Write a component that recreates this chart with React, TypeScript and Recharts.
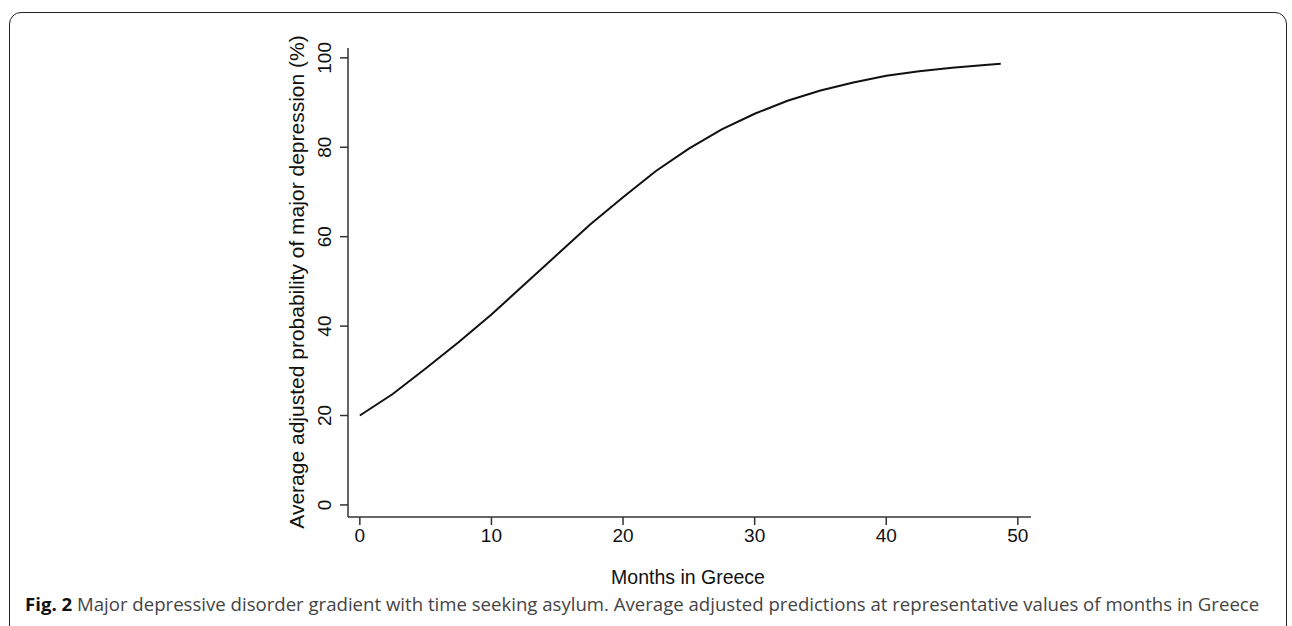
import { LineChart, Line, XAxis, YAxis } from 'recharts';

// months in Greece (representative values)
const months = [0, 2.5, 5, 7.5, 10, 12.5, 15, 17.5, 20, 22.5, 25, 27.5, 30, 32.5, 35, 37.5, 40, 42.5, 45, 47.5, 48.7];
// average adjusted probability of major depression (%)
const probability = [20.0, 24.8, 30.5, 36.4, 42.6, 49.3, 56.0, 62.7, 68.8, 74.7, 79.7, 84.0, 87.5, 90.4, 92.7, 94.5, 96.0, 97.0, 97.8, 98.4, 98.7];
const xTicks = [0, 10, 20, 30, 40, 50];
const yTicks = [0, 20, 40, 60, 80, 100];

const rows = months.map((m, i) => ({ m, p: probability[i] }));

const axisColor = '#333';
const font = '"Liberation Sans", Arial, sans-serif';

function YTick(props: any) {
  const { x, y, payload } = props;
  const bx = x - 7;
  return (
    <text x={bx} y={y} transform={`rotate(-90 ${bx} ${y})`} textAnchor="middle" fontSize={19} fontFamily={font} fill="#111">
      {payload.value}
    </text>
  );
}

function XTick(props: any) {
  const { x, y, payload } = props;
  return (
    <text x={x} y={y + 15} textAnchor="middle" fontSize={19} fontFamily={font} fill="#111">
      {payload.value}
    </text>
  );
}

export default function App() {
  return (
    <div style={{ position: 'absolute', left: 0, top: 0, width: 1292, height: 626, overflow: 'hidden', background: '#fff' }}>
      <div
        style={{
          position: 'absolute', left: 9, top: 12, width: 1278, height: 700,
          border: '1.5px solid #222', borderRadius: 12, boxSizing: 'border-box',
        }}
      />
      <div style={{ position: 'absolute', left: 0, top: 0 }}>
        <LineChart width={1292} height={626} data={rows} margin={{ top: 48, right: 261, bottom: 49, left: 288 }}>
          <XAxis
            dataKey="m"
            type="number"
            domain={[-0.9, 51]}
            ticks={xTicks}
            height={60}
            tickSize={8}
            stroke={axisColor}
            strokeWidth={1.5}
            tick={<XTick />}
            allowDataOverflow
          />
          <YAxis
            type="number"
            domain={[-2.7, 102.2]}
            ticks={yTicks}
            width={60}
            tickSize={8}
            stroke={axisColor}
            strokeWidth={1.5}
            tick={<YTick />}
            allowDataOverflow
          />
          <Line type="linear" dataKey="p" stroke="#111" strokeWidth={2} dot={false} isAnimationActive={false} />
        </LineChart>
      </div>
      <div
        style={{
          position: 'absolute', left: 297, top: 282, transform: 'translate(-50%, -50%) rotate(-90deg)',
          whiteSpace: 'nowrap', fontFamily: font, fontSize: 21, color: '#111',
        }}
      >
        Average adjusted probability of major depression (%)
      </div>
      <div
        style={{
          position: 'absolute', left: 688, top: 577, transform: 'translate(-50%, -50%)',
          whiteSpace: 'nowrap', fontFamily: font, fontSize: 19.5, color: '#111',
        }}
      >
        Months in Greece
      </div>
      <div
        style={{
          position: 'absolute', left: 25, top: 591, whiteSpace: 'nowrap',
          fontFamily: '"Open Sans", sans-serif', fontSize: 18.6, color: '#444',
        }}
      >
        <b style={{ color: '#111' }}>Fig. 2</b> Major depressive disorder gradient with time seeking asylum. Average adjusted predictions at representative values of months in Greece
      </div>
    </div>
  );
}
